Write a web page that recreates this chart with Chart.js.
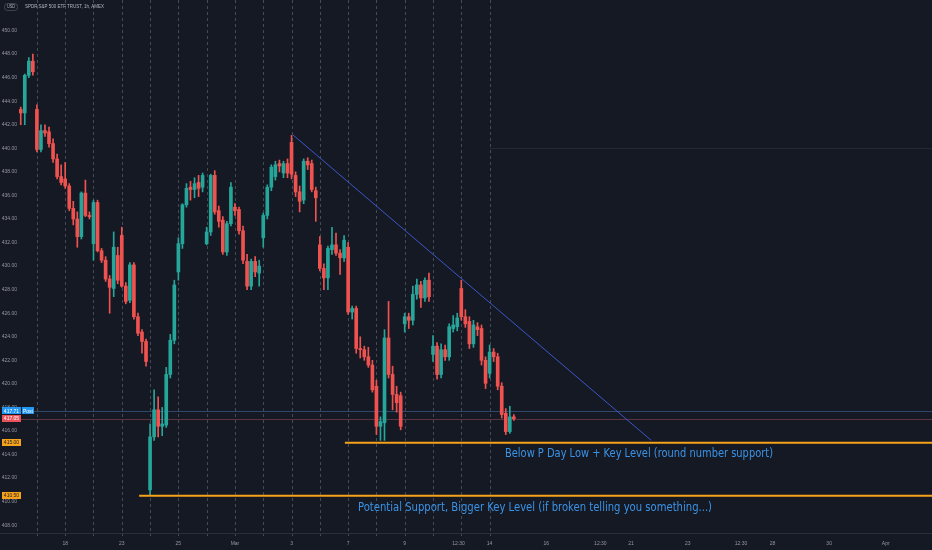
<!DOCTYPE html>
<html>
<head>
<meta charset="utf-8">
<script src="https://cdn.jsdelivr.net/npm/chart.js@4.4.1/dist/chart.umd.min.js"></script>
<style>
  html, body { margin: 0; padding: 0; background: #151924; }
  #wrap { width: 932px; height: 550px; position: relative; }
</style>
</head>
<body>
<div id="wrap"><canvas id="myChart"></canvas></div>
<script>
// SPY 1h candles, Feb 16 - Mar 14
const opens = [
  443.3, 443.0, 446.2, 447.4, 443.3, 439.9, 441.5, 441.4, 440.4, 439.1,
  437.6, 437.4, 436.8, 434.9, 434.0, 432.5, 436.2, 434.3, 431.9, 435.4,
  431.3, 430.5, 428.9, 428.1, 430.9, 432.6, 428.3, 427.1, 430.1, 425.7,
  424.4, 423.6, 411.0, 415.5, 417.8, 416.4, 416.5, 420.8, 423.7, 429.5,
  431.9, 435.2, 436.7, 436.5, 437.1, 436.7, 431.9, 432.9, 437.7, 434.7,
  433.9, 431.2, 433.6, 435.0, 434.8, 433.0, 430.4, 428.3, 430.4, 429.4,
  432.4, 434.3, 436.7, 437.6, 438.7, 437.9, 438.7, 440.5, 437.7, 436.3,
  435.6, 438.9, 438.7, 436.4, 431.8, 429.8, 429.0, 431.4, 431.8, 431.1,
  430.7, 431.6, 426.1, 426.4, 423.0, 422.9, 422.3, 421.6, 419.8, 416.4,
  416.7, 423.9, 420.8, 419.1, 419.0, 425.1, 425.7, 425.4, 427.6, 428.4,
  427.3, 428.8, 422.5, 423.2, 420.8, 422.9, 422.3, 424.7, 424.85, 428.1,
  425.7, 425.3, 423.4, 424.85, 424.7, 422.0, 420.9, 422.7, 422.3, 419.8,
  417.5, 415.95, 417.2
];
const highs = [
  443.5, 446.3, 447.7, 448.0, 443.7, 442.0, 442.0, 441.8, 440.8, 439.5,
  438.6, 438.8, 437.0, 435.5, 434.6, 436.3, 437.3, 434.6, 435.6, 435.6,
  431.5, 430.8, 429.2, 432.9, 431.6, 433.3, 428.6, 430.3, 430.3, 426.0,
  424.6, 423.8, 416.6, 419.5, 418.9, 418.0, 421.4, 424.2, 428.8, 432.4,
  435.3, 437.0, 437.2, 437.5, 437.7, 437.9, 433.3, 437.8, 438.1, 435.1,
  434.2, 433.8, 437.1, 435.3, 435.0, 433.4, 431.0, 430.6, 430.8, 430.5,
  434.5, 436.9, 438.6, 438.9, 439.0, 438.9, 439.1, 441.1, 438.0, 436.8,
  439.1, 439.2, 439.0, 436.7, 432.5, 430.2, 431.7, 433.3, 432.8, 431.4,
  432.6, 432.0, 426.6, 426.6, 424.0, 423.2, 423.1, 422.0, 420.3, 417.2,
  424.6, 427.0, 421.5, 419.8, 419.3, 426.0, 426.0, 428.3, 428.9, 428.7,
  429.0, 429.4, 424.1, 423.5, 423.4, 423.3, 425.1, 425.8, 426.0, 428.8,
  426.3, 425.7, 425.4, 425.2, 425.0, 422.3, 423.3, 423.0, 422.6, 420.1,
  417.9, 418.1, 417.4
];
const lows = [
  442.0, 442.0, 446.0, 446.2, 439.7, 439.7, 441.0, 440.1, 438.8, 437.4,
  436.9, 436.6, 434.7, 433.5, 431.6, 432.3, 434.2, 434.0, 430.5, 431.2,
  430.3, 428.7, 426.0, 427.4, 428.5, 428.2, 426.8, 426.9, 425.5, 424.1,
  422.6, 421.5, 410.6, 415.2, 415.5, 415.6, 416.3, 420.5, 423.4, 428.8,
  431.5, 435.0, 435.6, 435.8, 435.9, 436.3, 431.8, 432.6, 434.4, 433.3,
  431.0, 430.9, 433.4, 434.3, 432.7, 430.2, 428.0, 428.0, 429.1, 428.3,
  431.6, 434.0, 436.4, 437.3, 438.0, 437.5, 437.5, 437.4, 435.9, 434.6,
  435.3, 438.2, 436.3, 433.8, 429.6, 428.0, 428.0, 431.0, 430.9, 429.3,
  430.4, 425.9, 425.5, 422.6, 422.2, 422.0, 421.4, 419.3, 415.7, 415.2,
  415.2, 420.5, 417.8, 417.6, 416.1, 424.4, 424.7, 425.0, 427.2, 426.5,
  427.0, 427.0, 421.9, 420.4, 420.5, 422.0, 422.0, 424.4, 424.5, 425.4,
  424.8, 423.0, 423.1, 424.1, 421.6, 419.6, 420.5, 421.9, 419.5, 417.1,
  415.7, 415.8, 416.9
];
const closes = [
  443.0, 446.2, 447.4, 446.5, 439.9, 441.5, 441.3, 440.4, 439.1, 437.6,
  437.1, 436.8, 434.9, 434.0, 432.5, 436.2, 434.3, 434.2, 435.4, 431.3,
  430.5, 428.9, 428.2, 431.6, 428.8, 428.3, 427.0, 430.1, 425.7, 424.3,
  423.6, 421.9, 415.5, 417.8, 416.4, 416.6, 420.8, 423.7, 428.4, 431.9,
  435.2, 436.6, 436.5, 437.0, 436.6, 437.7, 432.9, 437.7, 434.6, 433.8,
  431.2, 433.6, 436.7, 434.7, 433.0, 430.5, 428.3, 430.4, 429.5, 430.0,
  434.3, 436.7, 438.4, 438.6, 438.5, 438.7, 437.9, 437.8, 436.3, 435.5,
  438.9, 438.6, 436.5, 435.8, 429.8, 429.0, 431.5, 431.8, 431.1, 430.7,
  432.2, 426.1, 426.4, 423.0, 422.9, 422.3, 421.6, 419.5, 416.4, 416.8,
  423.9, 420.8, 419.1, 418.4, 416.4, 425.7, 425.4, 427.6, 428.4, 427.3,
  428.8, 427.4, 423.2, 420.8, 422.9, 422.3, 424.85, 425.0, 425.6, 425.7,
  425.1, 423.4, 425.0, 424.6, 422.0, 420.05, 422.7, 422.3, 419.8, 417.4,
  415.95, 417.2, 417.05
];

// bar index of the first hourly bar of each session (dashed lines)
const dayStarts = [4, 11, 18, 25, 32, 39, 46, 53, 60, 67, 74, 81, 88, 95, 102, 109, 116];

// time axis labels (bar index position, text)
const xTickPos = [11, 25, 39, 53, 67, 81, 95, 108.3, 116, 130, 143.4, 151, 165, 178.2, 186, 200, 214];
const xTickText = ['18', '23', '25', 'Mar', '3', '7', '9', '12:30', '14', '16', '12:30', '21', '23', '12:30', '28', '30', 'Apr'];

// price axis labels
const yTicks = [408, 410, 412, 414, 416, 418, 420, 422, 424, 426, 428, 430, 432, 434, 436, 438, 440, 442, 444, 446, 448, 450];

// drawings
const trendX = [67.3, 156];
const trendY = [441.15, 415.2];
const keyLevels = [415.0, 410.5];
const keyLevelStart = [80.2, 29.3];
const keyLevelText = [
  'Below P Day Low + Key Level (round number support)',
  'Potential Support, Bigger Key Level (if broken telling you something...)'
];
const faintLevel = 440.0;
const faintLevelStart = 116;
const lastPrice = 417.05;
const postPrice = 417.71;

const UP = '#26a69a';
const DOWN = '#ef5350';
const ORANGE = '#f7a21b';
const X_MIN = -0.428;
const X_MAX = 225.45;

const idx = opens.map((_, i) => i);
const candleColors = idx.map(i => (closes[i] >= opens[i] ? UP : DOWN));

// draw text squeezed/stretched to a given width
function fitText(ctx, text, left, cy, width) {
  const mw = ctx.measureText(text).width;
  ctx.save();
  ctx.translate(left, cy);
  ctx.scale(width / mw, 1);
  ctx.fillText(text, 0, 0);
  ctx.restore();
}

// ------------------------------------------------------------------
// extra drawing (background, session lines, price tags, texts)
const tvPlugin = {
  id: 'tvPlugin',
  beforeDraw(chart) {
    const { ctx, chartArea, scales } = chart;
    ctx.save();
    ctx.fillStyle = '#151924';
    ctx.fillRect(0, 0, chart.width, chart.height);

    // session separators
    ctx.strokeStyle = 'rgba(120,124,136,0.5)';
    ctx.lineWidth = 1;
    ctx.setLineDash([3, 3]);
    dayStarts.forEach(i => {
      const x = Math.round(scales.x.getPixelForValue(i)) + 0.5;
      ctx.beginPath();
      ctx.moveTo(x, chartArea.top);
      ctx.lineTo(x, chartArea.bottom + 3);
      ctx.stroke();
    });
    ctx.setLineDash([]);

    // faint horizontal ray
    const yFaint = Math.round(scales.y.getPixelForValue(faintLevel)) + 0.5;
    ctx.strokeStyle = 'rgba(90,100,120,0.22)';
    ctx.beginPath();
    ctx.moveTo(scales.x.getPixelForValue(faintLevelStart), yFaint);
    ctx.lineTo(chartArea.right, yFaint);
    ctx.stroke();

    // last / post price lines
    const yPost = Math.round(scales.y.getPixelForValue(postPrice)) + 0.5;
    const yLast = Math.round(scales.y.getPixelForValue(lastPrice)) + 0.5;
    ctx.strokeStyle = 'rgba(70,110,160,0.55)';
    ctx.beginPath();
    ctx.moveTo(chartArea.left, yPost);
    ctx.lineTo(chartArea.right, yPost);
    ctx.stroke();
    ctx.strokeStyle = 'rgba(150,75,85,0.55)';
    ctx.beginPath();
    ctx.moveTo(chartArea.left, yLast);
    ctx.lineTo(chartArea.right, yLast);
    ctx.stroke();

    // axis border
    ctx.strokeStyle = '#2a2e39';
    ctx.beginPath();
    ctx.moveTo(0, chartArea.bottom + 0.5);
    ctx.lineTo(chart.width, chartArea.bottom + 0.5);
    ctx.stroke();
    ctx.restore();
  },
  afterDraw(chart) {
    const { ctx, scales } = chart;
    ctx.save();

    // level texts
    ctx.fillStyle = '#3b93e6';
    ctx.font = '13px "Liberation Sans Narrow", "DejaVu Sans Condensed", sans-serif';
    ctx.textBaseline = 'middle';
    fitText(ctx, keyLevelText[0], 505, 454, 268);
    fitText(ctx, keyLevelText[1], 358, 508, 354);

    // price tags on the scale
    const tag = (price, bg, fg, text, x0, w) => {
      const y = scales.y.getPixelForValue(price);
      ctx.fillStyle = bg;
      ctx.fillRect(x0, Math.round(y - 3.5), w, 7);
      ctx.fillStyle = fg;
      ctx.font = '5px "Liberation Sans", Arial, sans-serif';
      ctx.textAlign = 'center';
      ctx.textBaseline = 'middle';
      ctx.fillText(text, x0 + w / 2, y + 0.3);
    };
    tag(postPrice, '#2196f3', '#ffffff', postPrice.toFixed(2), 2, 19);
    tag(postPrice, '#2196f3', '#ffffff', 'Post', 22, 12);
    tag(lastPrice, '#e9525a', '#ffffff', lastPrice.toFixed(2), 2, 19);
    keyLevels.forEach(p => tag(p, ORANGE, '#1c1f2a', p.toFixed(2), 2, 19));

    // header
    ctx.textAlign = 'left';
    ctx.textBaseline = 'middle';
    ctx.fillStyle = '#b2b5be';
    ctx.font = '5px "Liberation Sans", Arial, sans-serif';
    fitText(ctx, 'SPDR S&P 500 ETF TRUST, 1h, AMEX', 25, 7, 79);
    ctx.strokeStyle = '#5d606b';
    ctx.lineWidth = 0.6;
    ctx.beginPath();
    ctx.roundRect(4.5, 3.5, 13, 7, 3);
    ctx.stroke();
    fitText(ctx, 'USD', 7, 7, 8);
    ctx.restore();
  }
};

const config = {
  type: 'bar',
  data: {
    datasets: [
      {
        label: 'trend',
        type: 'line',
        data: trendX.map((x, k) => ({ x, y: trendY[k] })),
        borderColor: '#3a56c8',
        borderWidth: 1,
        pointRadius: 0,
        order: 0,
      },
      {
        label: 'level1',
        type: 'line',
        data: [{ x: keyLevelStart[0], y: keyLevels[0] }, { x: X_MAX + 1, y: keyLevels[0] }],
        borderColor: ORANGE,
        borderWidth: 2,
        pointRadius: 0,
        order: 0,
      },
      {
        label: 'level2',
        type: 'line',
        data: [{ x: keyLevelStart[1], y: keyLevels[1] }, { x: X_MAX + 1, y: keyLevels[1] }],
        borderColor: ORANGE,
        borderWidth: 2,
        pointRadius: 0,
        order: 0,
      },
      {
        label: 'body',
        data: idx.map(i => ({ x: i, y: [opens[i], closes[i]] })),
        backgroundColor: candleColors,
        barThickness: 3,
        minBarLength: 1,
        grouped: false,
        order: 1,
      },
      {
        label: 'wick',
        data: idx.map(i => ({ x: i, y: [lows[i], highs[i]] })),
        backgroundColor: candleColors,
        barThickness: 1,
        grouped: false,
        order: 2,
      },
    ],
  },
  options: {
    responsive: true,
    maintainAspectRatio: false,
    animation: false,
    layout: { padding: 0 },
    plugins: {
      legend: { display: false },
      tooltip: { enabled: false },
    },
    scales: {
      x: {
        type: 'linear',
        min: X_MIN,
        max: X_MAX,
        offset: false,
        grid: { display: false, drawTicks: false },
        border: { display: false },
        ticks: {
          autoSkip: false,
          maxRotation: 0,
          padding: 8,
          color: '#9598a1',
          font: { size: 5, family: '"Liberation Sans", Arial, sans-serif' },
          callback: (v, i) => xTickText[i],
        },
        afterBuildTicks: (scale) => {
          scale.ticks = xTickPos.map(v => ({ value: v }));
        },
        afterFit: (scale) => {
          scale.height = 17;
          scale.paddingLeft = 0;
          scale.paddingRight = 0;
        },
      },
      y: {
        type: 'linear',
        position: 'left',
        min: 407.34,
        max: 452.59,
        grid: { display: false, drawTicks: false },
        border: { display: false },
        ticks: {
          padding: 2,
          color: '#9598a1',
          font: { size: 5, family: '"Liberation Sans", Arial, sans-serif' },
          callback: (v) => v.toFixed(2),
        },
        afterBuildTicks: (scale) => {
          scale.ticks = yTicks.map(v => ({ value: v }));
        },
        afterFit: (scale) => {
          scale.width = 19;
          scale.paddingTop = 0;
          scale.paddingBottom = 0;
        },
      },
    },
  },
  plugins: [tvPlugin],
};

const myChart = new Chart(document.getElementById('myChart'), config);
</script>
</body>
</html>
